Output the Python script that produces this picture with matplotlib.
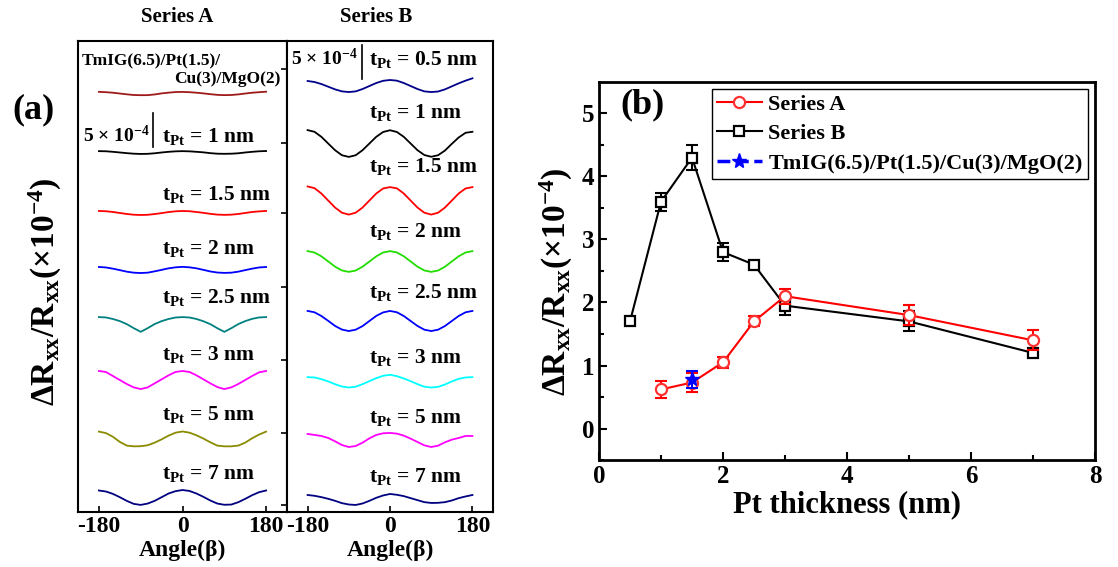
import numpy as np
import matplotlib.pyplot as plt
from matplotlib.lines import Line2D

plt.rcParams['font.family'] = ['Liberation Serif', 'DejaVu Serif']
plt.rcParams['font.weight'] = 'bold'
plt.rcParams['axes.labelweight'] = 'bold'
plt.rcParams['mathtext.fontset'] = 'custom'
plt.rcParams['mathtext.rm'] = 'Liberation Serif:bold'
plt.rcParams['mathtext.it'] = 'Liberation Serif:italic:bold'
plt.rcParams['mathtext.bf'] = 'Liberation Serif:bold'
plt.rcParams['axes.unicode_minus'] = False

# --- panel (a): angular scans, values in units of 1e-4 ---
angles = [-180, -165, -150, -135, -120, -105, -90, -75, -60, -45, -30, -15, 0,
          15, 30, 45, 60, 75, 90, 105, 120, 135, 150, 165, 180]

a_tmig = [0.25, 0.20, 0.12, 0.00, -0.12, -0.22, -0.25, -0.24, -0.14, 0.02, 0.13, 0.22, 0.24,
          0.20, 0.12, 0.02, -0.10, -0.20, -0.24, -0.22, -0.13, 0.00, 0.12, 0.20, 0.27]
a_1nm = [0.20, 0.18, 0.10, 0.00, -0.10, -0.18, -0.22, -0.20, -0.12, 0.00, 0.10, 0.17, 0.20,
         0.17, 0.10, 0.02, -0.10, -0.18, -0.20, -0.18, -0.12, 0.00, 0.10, 0.18, 0.22]
a_15nm = [0.30, 0.26, 0.15, 0.00, -0.15, -0.26, -0.30, -0.27, -0.16, -0.02, 0.14, 0.25, 0.30,
          0.26, 0.15, 0.02, -0.13, -0.24, -0.28, -0.25, -0.15, 0.00, 0.15, 0.24, 0.30]
a_2nm = [0.45, 0.38, 0.20, -0.02, -0.25, -0.40, -0.45, -0.40, -0.20, 0.02, 0.25, 0.40, 0.47,
         0.40, 0.25, 0.02, -0.22, -0.38, -0.43, -0.40, -0.25, -0.02, 0.20, 0.38, 0.45]
a_25nm = [1.10, 1.05, 0.82, 0.50, 0.05, -0.55, -1.10, -0.55, 0.06, 0.50, 0.82, 1.04, 1.10,
          1.04, 0.82, 0.48, 0.04, -0.56, -1.10, -0.56, 0.05, 0.50, 0.84, 1.05, 1.10]
a_3nm = [1.35, 1.20, 0.60, 0.00, -0.60, -1.10, -1.35, -1.10, -0.50, 0.10, 0.70, 1.20, 1.35,
         1.20, 0.70, 0.10, -0.50, -1.05, -1.35, -1.10, -0.60, 0.00, 0.60, 1.15, 1.35]
a_5nm = [1.10, 0.88, 0.33, -0.44, -0.99, -1.10, -1.08, -0.94, -0.55, -0.06, 0.50, 0.94, 1.12,
         0.94, 0.55, 0.06, -0.50, -0.99, -1.10, -1.10, -0.99, -0.55, 0.11, 0.66, 1.10]
a_7nm = [1.05, 0.90, 0.55, 0.05, -0.50, -0.95, -1.10, -0.90, -0.50, 0.05, 0.60, 0.95, 1.12,
         0.98, 0.60, 0.10, -0.45, -0.90, -1.08, -1.05, -0.70, -0.20, 0.35, 0.80, 1.05]

b_05nm = [0.75, 0.60, 0.30, -0.10, -0.50, -0.80, -0.90, -0.80, -0.45, 0.00, 0.45, 0.78, 0.90,
          0.80, 0.45, 0.00, -0.45, -0.80, -0.90, -0.82, -0.50, -0.05, 0.40, 0.80, 1.15]
b_1nm = [2.00, 1.75, 1.00, 0.00, -1.00, -1.75, -2.00, -1.75, -1.00, 0.00, 1.00, 1.72, 1.98,
         1.72, 1.00, 0.00, -1.00, -1.72, -1.98, -1.75, -1.05, -0.05, 0.90, 1.60, 1.75]
b_15nm = [2.10, 1.85, 1.05, 0.00, -1.05, -1.82, -2.10, -1.82, -1.05, 0.00, 1.05, 1.80, 2.00,
          1.82, 1.05, 0.00, -1.05, -1.82, -2.10, -1.82, -1.05, 0.00, 1.05, 1.80, 2.00]
b_2nm = [1.55, 1.34, 0.78, 0.01, -0.77, -1.34, -1.55, -1.35, -0.78, -0.01, 0.77, 1.34, 1.55,
         1.35, 0.78, 0.01, -0.77, -1.34, -1.55, -1.35, -0.78, 0.00, 0.78, 1.34, 1.55]
b_25nm = [1.50, 1.30, 0.75, 0.02, -0.74, -1.28, -1.50, -1.30, -0.76, 0.00, 0.76, 1.28, 1.50,
          1.30, 0.75, 0.00, -0.74, -1.30, -1.50, -1.30, -0.75, 0.00, 0.75, 1.30, 1.50]
b_3nm = [0.65, 0.60, 0.35, 0.00, -0.40, -0.75, -0.90, -0.78, -0.40, 0.05, 0.50, 0.85, 1.00,
         0.80, 0.45, 0.05, -0.40, -0.78, -0.90, -0.80, -0.45, 0.00, 0.40, 0.60, 0.65]
b_5nm = [0.90, 0.75, 0.60, 0.30, -0.20, -0.75, -1.05, -0.90, -0.40, 0.25, 0.75, 1.00, 1.05,
         0.95, 0.65, 0.20, -0.30, -0.80, -1.05, -0.85, -0.35, 0.05, 0.30, 0.60, 0.60]
b_7nm = [0.67, 0.55, 0.35, 0.10, -0.20, -0.55, -0.75, -0.82, -0.60, -0.20, 0.25, 0.60, 0.82,
         0.70, 0.50, 0.20, -0.10, -0.40, -0.52, -0.50, -0.40, -0.15, 0.20, 0.45, 0.67]

labels_a = ['1', '1.5', '2', '2.5', '3', '5', '7']
labels_b = ['0.5', '1', '1.5', '2', '2.5', '3', '5', '7']

# --- panel (b): amplitude vs Pt thickness ---
thick_a = [1, 1.5, 2, 2.5, 3, 5, 7]
amp_a = [0.62, 0.73, 1.05, 1.7, 2.1, 1.8, 1.4]
err_a = [0.14, 0.15, 0.09, 0.08, 0.12, 0.16, 0.16]
thick_b = [0.5, 1, 1.5, 2, 2.5, 3, 5, 7]
amp_b = [1.7, 3.6, 4.3, 2.8, 2.6, 1.95, 1.7, 1.2]
err_b = [0.06, 0.14, 0.2, 0.14, 0.05, 0.15, 0.16, 0.06]
thick_cu = [1.5]
amp_cu = [0.78]
err_cu = [0.13]

# stacking / layout
offs_a = [62.46, 53.66, 44.63, 36.12, 27.99, 19.70, 10.90, 2.16]
offs_b = [63.58, 55.0, 46.49, 37.39, 28.51, 19.48, 10.75, 1.87]
lab_y_a = [55.2, 46.6, 38.5, 31.2, 22.7, 13.7, 4.9]
lab_y_b = [66.7, 58.8, 50.7, 41.0, 31.9, 22.2, 13.3, 4.5]
cols_a = ['#9E1A1A', 'black', '#FF0000', '#0000FF', '#008080', '#FF00FF', '#8B8B00', '#000080']
cols_b = ['#00008B', 'black', '#FF0000', '#22DD00', '#0000FF', '#00FFFF', '#FF00FF', '#000080']

fig = plt.figure(figsize=(11.18, 5.67), dpi=100)
ax1 = fig.add_axes([0.0698, 0.0970, 0.1869, 0.8307])
ax2 = fig.add_axes([0.2567, 0.0970, 0.1843, 0.8307])
axb = fig.add_axes([0.5358, 0.1887, 0.4436, 0.6667])

curves_a = [a_tmig, a_1nm, a_15nm, a_2nm, a_25nm, a_3nm, a_5nm, a_7nm]
curves_b = [b_05nm, b_1nm, b_15nm, b_2nm, b_25nm, b_3nm, b_5nm, b_7nm]

for ax, curves, cols, offs in [(ax1, curves_a, cols_a, offs_a), (ax2, curves_b, cols_b, offs_b)]:
    for vals, c, off in zip(curves, cols, offs):
        ax.plot(angles, np.array(vals) + off, color=c, lw=1.3)
    ax.set_xlim(-225, 225)
    ax.set_ylim(0, 70.3)
    ax.set_xticks([-180, 0, 180])
    ax.set_xticklabels(['-180', '0', '180'])
    ax.tick_params(axis='x', direction='in', length=4, width=1.2, labelsize=17, pad=3)
    ax.set_xlabel('Angle(β)', fontsize=17, labelpad=2)
    for s in ax.spines.values():
        s.set_linewidth(1.5)

ax1.yaxis.tick_right()
ax1.set_yticks([1.0, 11.8, 22.7, 33.6, 44.6, 55.1, 66.1])
ax1.tick_params(axis='y', direction='in', length=4, width=1.2, labelright=False)
ax2.set_yticks([])

for lab, y in zip(labels_a, lab_y_a):
    ax1.text(-45, y, 't$_{\\rm Pt}$ = ' + lab + ' nm', fontsize=15.5, ha='left', va='baseline')
for lab, y in zip(labels_b, lab_y_b):
    ax2.text(-45, y, 't$_{\\rm Pt}$ = ' + lab + ' nm', fontsize=15.5, ha='left', va='baseline')

# scale bars
ax1.plot([-63, -63], [54.5, 59.5], color='black', lw=1.2)
ax1.text(-72, 55.2, '5 × 10$^{-4}$', fontsize=14, ha='right', va='baseline')
ax2.plot([-61, -61], [64.7, 69.7], color='black', lw=1.2)
ax2.text(-70, 66.7, '5 × 10$^{-4}$', fontsize=14, ha='right', va='baseline')

ax1.text(-217, 66.7, 'TmIG(6.5)/Pt(1.5)/', fontsize=12.5, ha='left', va='baseline')
ax1.text(210, 64.0, 'Cu(3)/MgO(2)', fontsize=12.5, ha='right', va='baseline')

fig.text(177 / 1118, 1 - 17.5 / 567, 'Series A', fontsize=15, ha='center', va='center')
fig.text(376 / 1118, 1 - 17.5 / 567, 'Series B', fontsize=15, ha='center', va='center')
fig.text(33 / 1118, 1 - 110 / 567, '(a)', fontsize=26, ha='center', va='center')
fig.text(45 / 1118, 1 - 292 / 567, 'ΔR$_{\\rm xx}$/R$_{\\rm xx}$(×10$^{-4}$)',
         fontsize=24, rotation=90, ha='center', va='center')

# panel (b)
axb.errorbar(thick_b, amp_b, yerr=err_b, fmt='none', ecolor='black', elinewidth=1.5, capsize=4, capthick=1.5)
axb.plot(thick_b, amp_b, color='black', lw=1.5, marker='s', ms=7, mfc='white', mec='black', mew=1.6)
axb.errorbar(thick_a, amp_a, yerr=err_a, fmt='none', ecolor='red', elinewidth=1.5, capsize=4, capthick=1.5)
axb.plot(thick_a, amp_a, color='red', lw=1.5, marker='o', ms=8, mfc='white', mec='#FF3030', mew=1.6)
axb.errorbar(thick_cu, amp_cu, yerr=err_cu, fmt='none', ecolor='blue', elinewidth=1.5, capsize=4, capthick=1.5)
axb.plot(thick_cu, amp_cu, ls='none', marker='*', ms=10, color='blue')

axb.set_xlim(0, 8)
axb.set_ylim(-0.5, 5.5)
axb.set_xticks([0, 2, 4, 6, 8])
axb.set_xticks([1, 3, 5, 7], minor=True)
axb.set_yticks([0, 1, 2, 3, 4, 5])
axb.set_yticks([-0.5, 0.5, 1.5, 2.5, 3.5, 4.5], minor=True)
axb.tick_params(which='major', direction='in', length=6, width=1.5, labelsize=18)
axb.tick_params(which='minor', direction='in', length=3.5, width=1.5)
for s in axb.spines.values():
    s.set_linewidth(2)
axb.set_xlabel('Pt thickness (nm)', fontsize=22, labelpad=2)
fig.text(556 / 1118, 1 - 282 / 567, 'ΔR$_{\\rm xx}$/R$_{\\rm xx}$(×10$^{-4}$)',
         fontsize=24, rotation=90, ha='center', va='center')
fig.text(643 / 1118, 1 - 105 / 567, '(b)', fontsize=26, ha='center', va='center')

handles = [
    Line2D([], [], color='red', lw=1.5, marker='o', ms=8, mfc='white', mec='#FF3030', mew=1.6),
    Line2D([], [], color='black', lw=1.5, marker='s', ms=7, mfc='white', mec='black', mew=1.6),
    Line2D([], [], color='blue', lw=2.5, ls='--', marker='*', ms=11),
]
leg = axb.legend(handles, ['Series A', 'Series B', 'TmIG(6.5)/Pt(1.5)/Cu(3)/MgO(2)'],
                 loc='upper right', fontsize=16, fancybox=False, framealpha=1, edgecolor='black',
                 borderaxespad=0.3, handlelength=2, handletextpad=0.3, labelspacing=0.4, borderpad=0.25)
leg.get_frame().set_linewidth(1.0)

fig.savefig('out.png', dpi=100)
